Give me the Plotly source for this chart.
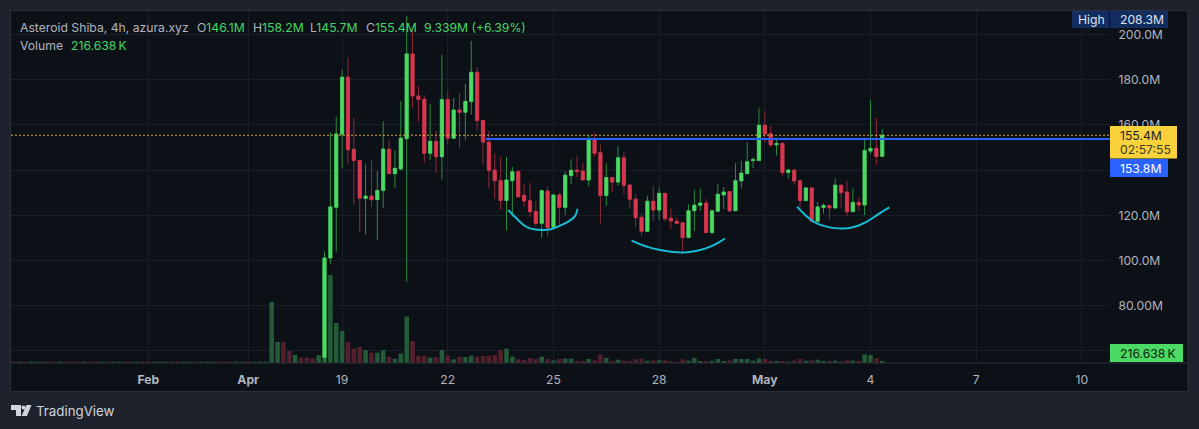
import plotly.graph_objects as go

W, H = 1199, 429
PAGE, PANEL = "#1e222d", "#0c1017"
GRID = "#1b1f29"
GREEN, RED = "#4cd964", "#d8384f"
GREEN_DIM, RED_DIM = "#2b8c42", "#8e2a3a"
GREEN_VOL, RED_VOL = "#235a37", "#55202d"
TEXT = "#b2b5be"
TEXT_GREEN = "#45d763"
FONT = "Inter"
SIZE = 12.2

candle_index = list(range(-3, 93))
opens = [57.0,101.1,123.5,155.8,181.1,149.2,144.3,127.4,128.5,126.9,131.0,149.3,138.4,140.5,153.9,191.4,172.8,171.3,147.4,152.7,145.9,171.2,154.1,166.6,165.6,170.3,183.3,162.0,152.4,140.0,135.3,126.5,
         135.3,139.3,128.8,126.4,121.7,116.4,130.7,114.7,129.0,123.5,137.5,139.9,139.6,135.6,153.3,147.7,128.7,136.7,134.7,145.4,133.4,127.1,119.1,112.9,126.2,122.3,129.7,118.7,117.3,116.7,110.1,
         122.0,124.4,125.4,112.3,121.8,129.0,130.5,122.0,135.2,138.4,144.2,144.2,159.8,156.1,151.2,151.8,138.9,140.0,135.3,126.5,132.1,117.3,123.4,124.3,123.2,133.3,130.3,121.6,125.7,124.5,148.4,149.6,146.1]
highs = [104.0,156.7,163.6,184.3,189.9,163.2,144.3,142.6,144.3,139.6,161.6,153.2,148.7,170.6,208.3,202.9,177.2,173.2,169.1,157.3,191.1,175.1,171.9,174.0,178.1,197.1,185.5,162.0,157.2,147.4,145.8,145.8,
         141.4,140.0,133.8,134.4,126.2,131.2,132.8,129.0,130.0,139.2,144.8,146.4,143.1,155.5,156.3,151.2,143.0,136.7,150.5,147.9,133.8,129.4,120.9,128.7,133.0,132.4,129.7,123.1,118.8,116.7,124.8,
         131.2,131.9,127.2,122.0,133.8,132.5,130.7,143.0,144.0,152.3,145.6,167.3,166.3,159.5,154.3,152.3,140.5,140.3,135.6,132.4,132.1,125.9,125.4,124.8,136.3,133.4,135.2,131.9,127.9,154.3,171.0,163.1,158.2]
lows = [55.5,98.5,103.9,140.8,142.4,124.6,112.8,111.4,123.8,108.9,123.2,138.4,132.2,139.7,90.6,167.6,161.4,143.3,144.5,138.6,135.9,151.6,153.9,149.9,153.5,164.5,157.4,142.7,131.8,127.2,122.3,113.3,
        119.4,127.8,123.8,119.1,115.0,110.1,110.4,114.7,115.7,120.1,133.8,136.9,135.6,132.7,145.9,116.4,124.1,130.4,133.1,129.3,122.9,115.0,110.8,112.7,117.5,117.9,117.2,113.8,116.0,103.9,110.1,
        113.0,122.0,112.3,112.3,121.3,122.6,121.5,122.0,131.8,138.4,140.9,144.2,152.3,150.1,146.4,137.5,136.2,133.4,123.4,126.2,117.3,117.0,120.7,117.9,123.1,123.4,119.4,121.5,122.0,120.1,147.1,142.3,145.7]
closes = [101.1,123.7,156.0,181.1,149.0,144.2,127.5,128.5,126.9,131.0,149.3,138.4,140.8,154.1,191.4,172.8,171.2,147.4,152.7,145.9,171.2,154.1,166.6,165.6,170.4,183.3,161.9,152.4,139.9,135.3,126.5,135.6,
          139.3,128.2,126.3,121.6,116.4,130.9,114.5,129.0,123.5,137.7,139.9,139.3,135.6,153.3,147.4,128.7,136.7,134.7,145.4,133.3,127.1,118.9,112.9,126.2,122.3,129.7,118.5,117.5,116.4,110.1,122.0,
          124.5,125.4,112.3,122.0,129.3,130.3,121.9,135.3,138.7,143.7,144.6,159.8,156.0,151.1,151.7,138.9,140.0,135.2,126.5,132.1,117.3,123.7,124.3,123.2,133.3,130.0,121.5,125.7,124.5,148.7,149.6,146.0,155.4]

volume_index = list(range(-56, 93))
volumes_k = [140,130,140,150,140,130,150,140,130,140,150,130,140,140,150,130,140,130,150,140,130,140,150,140,130,140,130,150,140,140,130,150,140,130,140,150,130,140,150,130,140,130,150,140,
             6590,2270,2270,1300,860,580,580,500,860,10500,9500,4320,
             3460,2270,1550,1760,1400,1120,1120,1400,680,470,1040,5040,2380,790,790,580,650,1400,790,400,680,650,790,680,760,760,860,1400,1550,680,400,320,540,430,680,430,
             290,430,470,470,220,220,430,290,900,540,220,360,250,220,400,470,250,290,290,290,220,110,400,250,540,220,220,250,430,220,290,430,430,430,250,500,430,220,220,220,140,250,430,250,290,360,220,220,250,180,290,250,220,940,860,500,217]
pre_volume_up = [0,1,0,1,1,1,0,0,1,0,0,0,1,0,0,1,0,1,1,0,0,1,0,0,1,1,1,0,0,1,1,0,1,1,1,0,0,0,1,1,0,1,1,1,
                 1,1,0,0,1,0,0,0,1]
volume_up = pre_volume_up + [c >= o for o, c in zip(opens, closes)]
volume_colors = [GREEN_VOL if u else RED_VOL for u in volume_up]

x_tick_vals = [-33, -16, 0, 18, 36, 54, 72, 90, 108, 126]
x_tick_text = ["<b>Feb</b>", "<b>Apr</b>", "19", "22", "25", "28", "<b>May</b>", "4", "7", "10"]
y_tick_vals = [60, 80, 100, 120, 140, 160, 180, 200]
y_tick_text = ["", "80.00M", "100.0M", "120.0M", "", "160.0M", "180.0M", "200.0M"]

current_price = 155.4
drawn_level = 153.8
drawn_level_start = 24.5
x_view = [-56.4, 130.8]

arc1_x = [28.3, 29.5, 30.9, 32.0, 34.0, 35.7, 37.4, 38.8, 39.7, 40.1]
arc1_y = [122.3, 119.1, 115.7, 114.2, 113.5, 113.9, 115.7, 117.6, 119.7, 122.8]
arc2_x = [49.3, 51.9, 54.2, 56.4, 58.7, 61.0, 62.7, 64.1, 65.2]
arc2_y = [108.8, 106.1, 104.6, 103.7, 103.6, 104.6, 106.1, 107.9, 109.7]
arc3_x = [77.5, 78.9, 80.3, 82.0, 84.9, 87.2, 89.4, 91.4, 93.2]
arc3_y = [123.8, 120.1, 117.2, 115.3, 114.1, 114.8, 117.2, 120.6, 123.5]


def px(v):
    return v / W


def py(v):
    return 1 - v / H


body_top = [max(o, c) for o, c in zip(opens, closes)]
body_bot = [min(o, c) for o, c in zip(opens, closes)]

fig = go.Figure()
fig.add_trace(go.Bar(x=volume_index, y=volumes_k, width=0.78, marker=dict(color=volume_colors, line_width=0),
                     yaxis="y", hoverinfo="skip", showlegend=False))
fig.add_trace(go.Candlestick(x=candle_index, open=opens, high=highs, low=lows, close=closes, yaxis="y2",
                             increasing=dict(line=dict(color=GREEN_DIM, width=1), fillcolor=GREEN_DIM),
                             decreasing=dict(line=dict(color=RED_DIM, width=1), fillcolor=RED_DIM),
                             hoverinfo="skip", showlegend=False))
fig.add_trace(go.Candlestick(x=candle_index, open=opens, high=body_top, low=body_bot, close=closes, yaxis="y2",
                             increasing=dict(line=dict(color=GREEN, width=0.5), fillcolor=GREEN),
                             decreasing=dict(line=dict(color=RED, width=0.5), fillcolor=RED),
                             hoverinfo="skip", showlegend=False))
fig.add_trace(go.Scatter(x=[drawn_level_start, x_view[1]], y=[drawn_level, drawn_level], mode="lines", yaxis="y2",
                         line=dict(color="#2962ff", width=2), hoverinfo="skip", showlegend=False))
fig.add_trace(go.Scatter(x=x_view, y=[current_price, current_price], mode="lines", yaxis="y2",
                         line=dict(color="#d2aa32", width=1, dash="2px,2px"), hoverinfo="skip", showlegend=False))
for ax, ay in ((arc1_x, arc1_y), (arc2_x, arc2_y), (arc3_x, arc3_y)):
    fig.add_trace(go.Scatter(x=ax, y=ay, mode="lines", yaxis="y2", line=dict(color="#16bcd6", width=2, shape="spline"),
                             hoverinfo="skip", showlegend=False))

domain_y = [py(363), py(11)]
shapes = [
    dict(type="rect", xref="paper", yref="paper", x0=px(10.5), x1=px(1188), y0=py(391.5), y1=py(10.5),
         fillcolor=PANEL, line=dict(color="#2a2e39", width=1), layer="below"),
    dict(type="line", xref="paper", yref="paper", x0=px(11), x1=px(1188), y0=py(363), y1=py(363),
         line=dict(color="#2a2e39", width=1)),
]


def tag(x0, x1, y0, y1, color):
    shapes.append(dict(type="rect", xref="paper", yref="paper", x0=px(x0), x1=px(x1), y0=py(y1), y1=py(y0),
                       fillcolor=color, line_width=0))


NAVY = "#132d61"
tag(1072, 1109, 11, 28, NAVY)
tag(1110, 1168, 11, 28, NAVY)
tag(1110, 1177, 126, 158.5, "#f9d13a")
tag(1110, 1168, 159, 177, "#2962ff")
tag(1110, 1183, 344, 362, GREEN)

logo_t = "M%f,%f L%f,%f L%f,%f L%f,%f L%f,%f L%f,%f Z" % (
    px(11), py(405), px(21), py(405), px(21), py(416), px(16), py(416), px(16), py(410), px(11), py(410))
logo_s = "M%f,%f L%f,%f L%f,%f L%f,%f Z" % (px(26.5), py(405), px(31.5), py(405), px(27), py(416), px(21.5), py(416))
shapes.append(dict(type="path", xref="paper", yref="paper", path=logo_t, fillcolor="#d1d4dc", line_width=0))
shapes.append(dict(type="path", xref="paper", yref="paper", path=logo_s, fillcolor="#d1d4dc", line_width=0))
shapes.append(dict(type="circle", xref="paper", yref="paper", x0=px(21.5), x1=px(25.5), y0=py(409.5), y1=py(405.5),
                   fillcolor="#d1d4dc", line_width=0))

annotations = []


def label(x, y, text, color=TEXT, size=SIZE, anchor="left"):
    annotations.append(dict(xref="paper", yref="paper", x=px(x), y=py(y), text=text, showarrow=False, xanchor=anchor,
                            yanchor="middle", align=anchor, borderpad=0,
                            font=dict(family=FONT, size=size, color=color)))


def val(s):
    return f'<span style="color:{TEXT_GREEN}">{s}</span>'


label(19, 27.5, "Asteroid Shiba, 4h, azura.xyz")
label(196, 27.5, "O" + val("146.1M"))
label(252, 27.5, "H" + val("158.2M"))
label(309, 27.5, "L" + val("145.7M"))
label(365, 27.5, "C" + val("155.4M"))
label(423, 27.5, val("9.339M (+6.39%)"))
label(19, 45.5, "Volume")
label(70, 45.5, val("216.638\u2009K"))

label(1091, 19.5, "High", "#dfe3ee", anchor="center")
label(1119, 19.5, "208.3M", "#dfe3ee")
label(1119, 135, "155.4M", "#1e222d")
label(1119, 149, "02:57:55", "#3a3a2a")
label(1119, 168, "153.8M", "#ffffff")
label(1119, 353, "216.638\u2009K", "#10240f")
label(35, 411, "TradingView", "#d1d4dc", size=13.3)

fig.update_layout(
    width=W, height=H, margin=dict(l=0, r=0, t=0, b=0), autosize=False,
    paper_bgcolor=PAGE, plot_bgcolor=PANEL, showlegend=False, shapes=shapes, annotations=annotations,
    boxgap=0.22, bargap=0.2, font=dict(family=FONT, color=TEXT, size=SIZE),
    xaxis=dict(domain=[px(11), px(1110)], range=x_view, tickmode="array", tickvals=x_tick_vals, ticktext=x_tick_text,
               showgrid=True, gridcolor=GRID, gridwidth=1, zeroline=False, showline=False, ticks="outside",
               ticklen=5, tickcolor="rgba(0,0,0,0)", rangeslider=dict(visible=False), tickangle=0,
               tickfont=dict(family=FONT, size=SIZE, color=TEXT), anchor="y"),
    yaxis=dict(domain=domain_y, range=[0, 38016], visible=False, showgrid=False, zeroline=False, anchor="x"),
    yaxis2=dict(domain=domain_y, range=[54.6, 210.4], overlaying="y", side="right", anchor="x", tickmode="array",
                tickvals=y_tick_vals, ticktext=y_tick_text, showgrid=True, gridcolor=GRID, gridwidth=1,
                zeroline=False, showline=False, ticks="outside", ticklen=5, tickcolor="rgba(0,0,0,0)",
                tickfont=dict(family=FONT, size=SIZE, color=TEXT)),
)

fig.write_html("out.html", config=dict(displayModeBar=False, staticPlot=True),
               post_script="document.body.style.margin='0';document.body.style.background='#1e222d';document.body.style.overflow='hidden';")
